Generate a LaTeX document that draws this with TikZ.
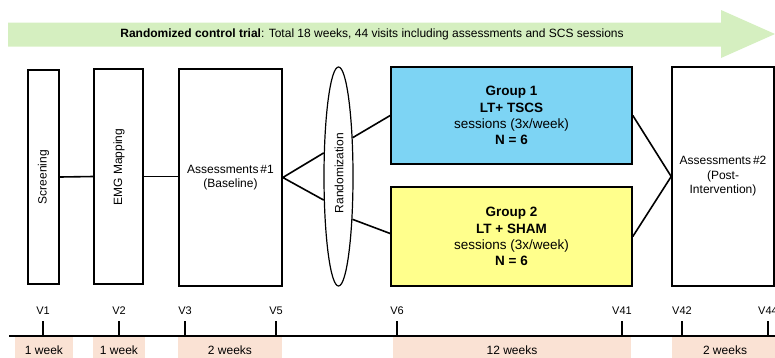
\documentclass[tikz,border=0pt]{standalone}
\usepackage{fontspec}
\setmainfont{Liberation Sans}
\usetikzlibrary{shapes.geometric}
\definecolor{arrowgreen}{HTML}{D5EFC0}
\definecolor{g1blue}{HTML}{7DD4F4}
\definecolor{g2yellow}{HTML}{FFFF8C}
\definecolor{peach}{HTML}{FAE2D4}
\begin{document}
\begin{tikzpicture}[x=1pt,y=-1pt,
  box/.style={draw, line width=1.6pt, inner sep=0pt, align=center, font=\fontsize{12}{14.5}\selectfont},
  link/.style={line width=1.6pt},
  grp/.style={box, font=\fontsize{13.5}{16.3}\selectfont},
  vlab/.style={font=\fontsize{11}{13}\selectfont, inner sep=0pt},
  weekbox/.style={fill=peach, inner sep=0pt, minimum height=26pt, font=\fontsize{12}{14}\selectfont},
  tick/.style={line width=1.6pt}]
\useasboundingbox (0,0) rectangle (775,357);
% green arrow
\fill[arrowgreen] (8,22.5) -- (721,22.5) -- (721,10) -- (775,34) -- (721,58) -- (721,46.5) -- (8,46.5) -- cycle;
\node[inner sep=0pt, font=\fontsize{12}{14}\selectfont] (title) at (372,34) {\textbf{Randomized control trial}: Total 18 weeks, 44 visits including assessments and SCS sessions};
% boxes
\node[box, minimum width=31pt, minimum height=214pt] (screen) at (43.5,177) {};
\node[rotate=90, font=\fontsize{12}{14}\selectfont] at (screen.center) {Screening};
\node[box, minimum width=49pt, minimum height=215pt] (emg) at (118.5,176.5) {};
\node[rotate=90, font=\fontsize{12}{14}\selectfont] at (119,167) {EMG Mapping};
\node[box, minimum width=103pt, minimum height=217pt] (ass1) at (230.5,177.5) {Assessments\,\#1\\(Baseline)};
\node[draw, ellipse, line width=1.2pt, inner sep=0pt, minimum width=29pt, minimum height=219pt] (rand) at (338.5,176.5) {};
\node[rotate=90, font=\fontsize{12}{14}\selectfont] at (339,173) {Randomization};
\node[grp, fill=g1blue, minimum width=241pt, minimum height=97pt] (g1) at (511.5,115.5) {\textbf{Group 1}\\\textbf{LT+ TSCS}\\sessions (3x/week)\\\textbf{N = 6}};
\node[grp, fill=g2yellow, minimum width=241pt, minimum height=99pt] (g2) at (511.5,236.5) {\textbf{Group 2}\\\textbf{LT + SHAM}\\sessions (3x/week)\\\textbf{N = 6}};
\node[box, minimum width=102pt, minimum height=219pt] (ass2) at (723,176.5) {Assessments\,\#2\\(Post-\\Intervention)};
% connectors
\draw[link] (screen.east) -- (emg.west);
\draw[link] (emg.east) -- (ass1.west |- emg.east);
\draw[link] (rand.122) -- (ass1.east) -- (rand.238);
\draw[link] (rand.70) -- (g1.west);
\draw[link] (rand.-72) -- ([yshift=3pt]g2.west);
\draw[link] (g1.east) -- (ass2.west) -- (g2.east);
% timeline
\node[weekbox, minimum width=58pt] (w1) at (44,350) {1 week};
\node[weekbox, minimum width=52pt] (w2) at (119,350) {1 week};
\node[weekbox, minimum width=104pt] (w3) at (230,350) {2 weeks};
\node[weekbox, minimum width=238pt] (w4) at (512,350) {12 weeks};
\node[weekbox, minimum width=106pt] (w5) at (725,350) {2 weeks};
\coordinate (tl0) at (9,336);
\coordinate (tl1) at (775,336);
\draw[line width=1.4pt] (tl0) -- (tl1);
\foreach \n/\x in {V1/43,V2/119,V3/185,V5/276,V6/397,V41/622,V42/682,V44/768}{
  \node[vlab] (\n) at (\x,311) {\n};
  \draw[tick] (\x,321) -- (\x,336);
}
\end{tikzpicture}
\end{document}
